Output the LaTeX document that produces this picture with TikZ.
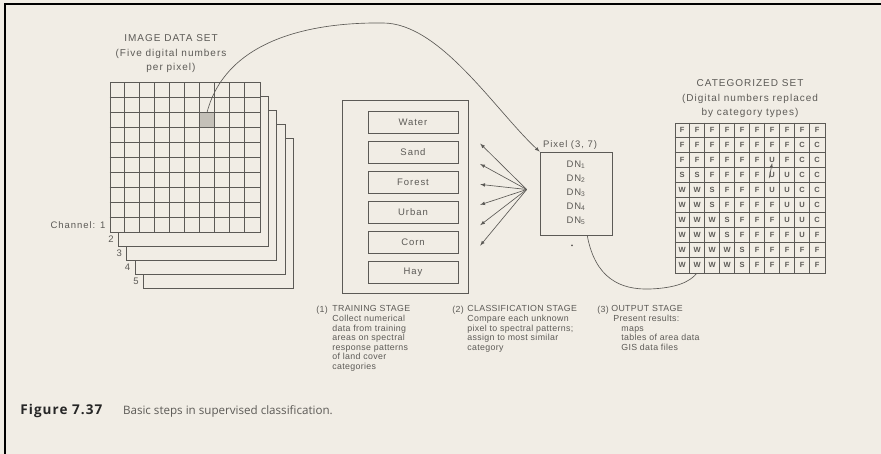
\documentclass[tikz,border=0pt]{standalone}
\usepackage{fontspec}
\setmainfont{Liberation Sans}
\newfontfamily\captionfont{Open Sans}
\usepackage{tikz}
\usetikzlibrary{positioning}
\usetikzlibrary{arrows}
\usetikzlibrary{calc}
\definecolor{paper}{RGB}{241,237,229}
\definecolor{ink}{RGB}{92,90,86}
\definecolor{pixshade}{RGB}{196,192,184}
\tikzset{my_figure/.style={x=1pt,y=-1pt,>=latex,color=ink,line width=0.65pt}}
\tikzset{my_layer/.style={draw,fill=paper,minimum size=150pt,inner sep=0pt}}
\tikzset{my_class/.style={draw,minimum width=90pt,minimum height=22pt,inner sep=0pt,font=\fontsize{9.5}{11}\selectfont\addfontfeature{LetterSpace=10}}}
\tikzset{my_label/.style={inner sep=0pt,font=\fontsize{9.5}{11}\selectfont\addfontfeature{LetterSpace=10}}}
\tikzset{my_heading/.style={align=center,inner sep=0pt,font=\fontsize{10}{14.5}\selectfont\addfontfeature{LetterSpace=10}}}
\tikzset{my_stage/.style={anchor=north west,align=left,inner sep=0pt,font=\fontsize{8.8}{9.6}\selectfont\addfontfeature{LetterSpace=4}}}
\tikzset{my_cell/.style={inner sep=0pt,font=\fontsize{7.5}{8}\selectfont\bfseries}}

\begin{document}
\begin{tikzpicture}[my_figure]
    \fill[paper] (0,0) rectangle (881,454);
    \useasboundingbox (0,0) rectangle (881,454);
    \draw[black, line width=1.5pt] (5,454) -- (5,4) -- (881,4);

    % image data set: channels 5..2 behind channel 1
    \foreach \k in {5,4,3,2}
    {
        \node[my_layer] (ch\k) at ({185+8.3*(\k-1)},{157.5+14*(\k-1)}) {};
        \node[my_label, anchor=east] (chnum\k) at ($(ch\k.south west)+(-4,-8)$) {\k};
    }
    \node[my_layer] (ch1) at (185,157.5) {};
    \node[my_label, anchor=east] (chnum1) at ($(ch1.south west)+(-4,-8)$) {Channel: 1};
    \node[fill=pixshade, minimum size=15pt, inner sep=0pt] (px) at ($(ch1.north west)+(97.5,37.5)$) {};
    \foreach \i in {1,...,9}
    {
        \draw[thin] ($(ch1.north west)+(15*\i,0)$) -- ($(ch1.south west)+(15*\i,0)$);
        \draw[thin] ($(ch1.north west)+(0,15*\i)$) -- ($(ch1.north east)+(0,15*\i)$);
    }
    \node[my_heading] (imgtitle) at (171,54) {IMAGE DATA SET\\(Five digital numbers\\per pixel)};

    % training areas
    \node[draw, minimum width=126pt, minimum height=193pt, inner sep=0pt] (train) at (405,196.5) {};
    \foreach \cls [count=\i] in {Water,Sand,Forest,Urban,Corn,Hay}
        \node[my_class] (class\i) at (413,{92+30*\i}) {\cls};

    % unknown pixel
    \node[draw, minimum width=72pt, minimum height=83pt, inner sep=0pt] (pix) at (576,193.5) {};
    \node[my_label, anchor=base west] (pixname) at ($(pix.north west)+(3,-4)$) {Pixel (3, 7)};
    \foreach \n in {1,...,5}
        \node[my_label] (dn\n) at ($(pix.north)+(0,{14*\n-1})$) {DN\textsubscript{\n}};
    \node[circle, fill, inner sep=0.7pt] (mark) at ($(pix.south)+(-4,10)$) {};

    \coordinate (fan) at ($(pix.west)+(-13,-4)$);
    \foreach \i in {1,...,6}
        \draw[->] (fan) -- ($(fan)!0.68!(class\i.east)$);

    \draw[->] (px.north) .. controls (225,45) and (300,22) .. (383,23)
        .. controls (440,23) and (495,110) .. (pix.north west);

    % categorized set
    \node[my_heading] (cattitle) at (750,99) {CATEGORIZED SET\\(Digital numbers replaced\\by category types)};
    \coordinate (cathook) at (697,273);
    \draw (pix.-75) .. controls (595,278) and (620,290) .. (650,289)
        .. controls (676,288) and (690,282) .. (cathook);
    \node[my_layer] (cat) at (750,198) {};
    \foreach \catrow [count=\r] in {
        {F,F,F,F,F,F,F,F,F,F},
        {F,F,F,F,F,F,F,F,C,C},
        {F,F,F,F,F,F,U,F,C,C},
        {S,S,F,F,F,F,U,U,C,C},
        {W,W,S,F,F,F,U,U,C,C},
        {W,W,S,F,F,F,F,U,U,C},
        {W,W,W,S,F,F,F,U,U,C},
        {W,W,W,S,F,F,F,F,U,F},
        {W,W,W,W,S,F,F,F,F,F},
        {W,W,W,W,S,F,F,F,F,F}}
        \foreach \letter [count=\c] in \catrow
            \node[my_cell] (cat-\r-\c) at ($(cat.north west)+({15*\c-7.5},{15*\r-7.5})$) {\letter};
    \foreach \i in {1,...,9}
    {
        \draw[thin] ($(cat.north west)+(15*\i,0)$) -- ($(cat.south west)+(15*\i,0)$);
        \draw[thin] ($(cat.north west)+(0,15*\i)$) -- ($(cat.north east)+(0,15*\i)$);
    }
    \coordinate (catstub) at ($(cat-3-7.south)+(-3,15)$);
    \draw[->] (catstub) -- (cat-3-7.south);

    % stages
    \node[my_stage] (num1) at (316,305.5) {(1)};
    \node[my_stage] (stage1) at (332,305.5) {TRAINING STAGE\\Collect numerical\\data from training\\areas on spectral\\response patterns\\of land cover\\categories};
    \node[my_stage] (num2) at (452,305.5) {(2)};
    \node[my_stage] (stage2) at (467,305.5) {CLASSIFICATION STAGE\\Compare each unknown\\pixel to spectral patterns;\\assign to most similar\\category};
    \node[my_stage] (num3) at (597,305.5) {(3)};
    \node[my_stage] (stage3) at (611,305.5) {OUTPUT STAGE\\\hspace*{2pt}Present results:\\\hspace*{10pt}maps\\\hspace*{10pt}tables of area data\\\hspace*{10pt}GIS data files};

    % caption
    \node[anchor=base west, inner sep=0pt, text=black!85, font=\captionfont\bfseries\fontsize{13.5}{15}\selectfont\addfontfeature{LetterSpace=8}] (fignum) at (20,414) {Figure 7.37};
    \node[base right=20pt of fignum, inner sep=0pt, font=\captionfont\fontsize{11.6}{13}\selectfont] (figtext) {Basic steps in supervised classification.};
\end{tikzpicture}
\end{document}
